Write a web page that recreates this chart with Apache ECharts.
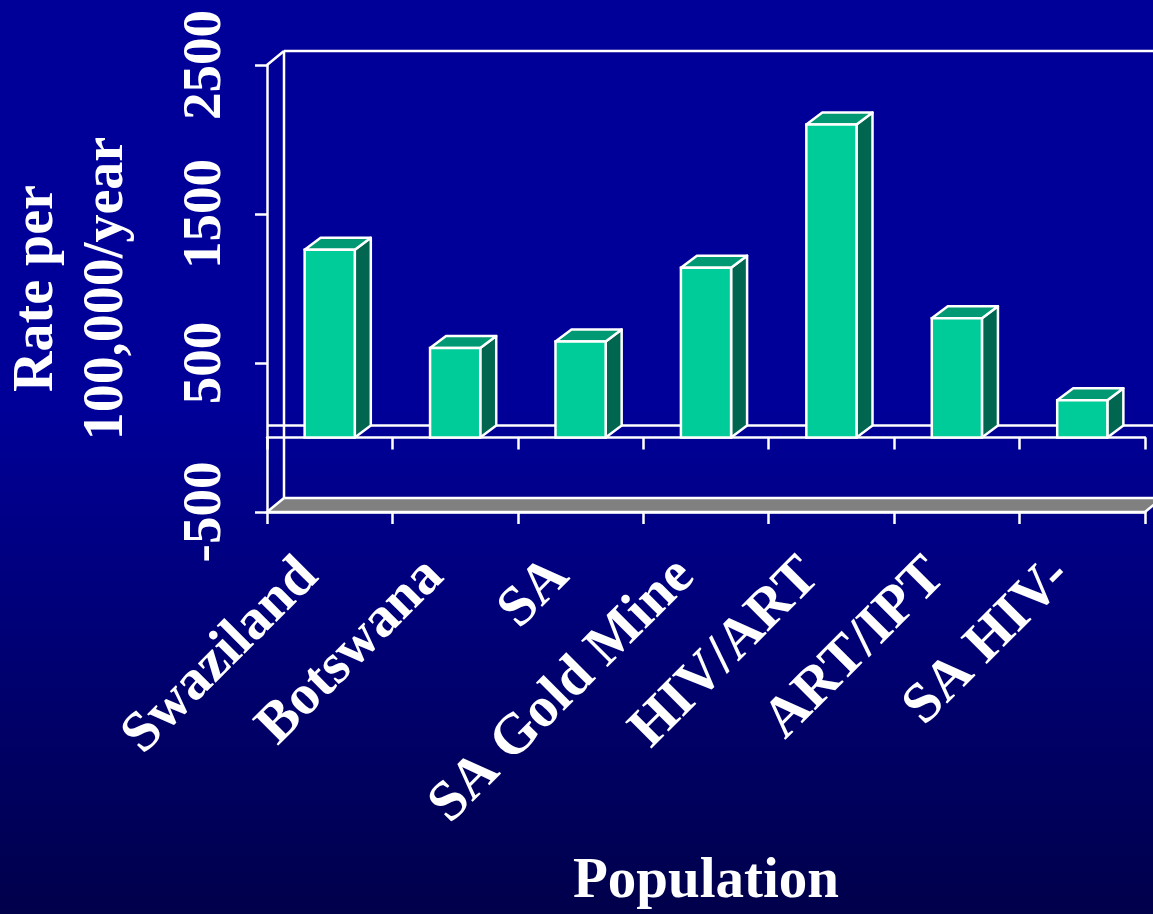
<!DOCTYPE html>
<html>
<head>
<meta charset="utf-8">
<title>Rate per 100,000/year by population</title>
<script src="https://cdn.jsdelivr.net/npm/echarts@6/dist/echarts.min.js"></script>
<style>
  html, body { margin: 0; padding: 0; background: #000099; }
  #chart { width: 1153px; height: 914px; }
</style>
</head>
<body>
<div id="chart"></div>
<script>
// Categories and rates (per 100,000 per year)
const categories = ['Swaziland', 'Botswana', 'SA', 'SA Gold Mine', 'HIV/ART', 'ART/IPT', 'SA HIV-'];
const rates = [1260, 600, 645, 1140, 2100, 800, 250];
const yTicks = [-500, 500, 1500, 2500];

const FONT = 'Liberation Serif';
const WHITE = '#ffffff';

// depth offsets for the pseudo-3D look
const WALL_DX = 17, WALL_DY = -14;
const BAR_DX = 16, BAR_DY = -12;

const chart = echarts.init(document.getElementById('chart'), null, { renderer: 'canvas' });

const lineStyle = { stroke: WHITE, lineWidth: 2.5 };

// back wall, floor and the rear zero line
function renderFrame(params, api) {
  if (params.dataIndex !== 0) return;
  const cs = params.coordSys;
  const x0 = cs.x, x1 = cs.x + cs.width;
  const yT = cs.y, yB = cs.y + cs.height;
  const yZ = api.coord([0, 0])[1];
  const far = x1 + WALL_DX + 40;
  return {
    type: 'group',
    children: [
      { type: 'line', shape: { x1: x0, y1: yT, x2: x0 + WALL_DX, y2: yT + WALL_DY }, style: lineStyle },
      { type: 'line', shape: { x1: x0 + WALL_DX, y1: yT + WALL_DY, x2: far, y2: yT + WALL_DY }, style: lineStyle },
      { type: 'line', shape: { x1: x0 + WALL_DX, y1: yT + WALL_DY, x2: x0 + WALL_DX, y2: yB + WALL_DY }, style: lineStyle },
      { type: 'line', shape: { x1: x0, y1: yZ + WALL_DY + 2, x2: far, y2: yZ + WALL_DY + 2 }, style: lineStyle },
      {
        type: 'polygon',
        shape: { points: [[x0, yB], [x1, yB], [x1 + WALL_DX, yB + WALL_DY], [x0 + WALL_DX, yB + WALL_DY]] },
        style: { fill: '#808080', stroke: WHITE, lineWidth: 2.5 }
      }
    ]
  };
}

// one box per category: side, top and front faces
function renderBar(params, api) {
  const i = api.value(0);
  const v = api.value(1);
  const top = api.coord([i, v]);
  const base = api.coord([i, 0]);
  const bw = api.size([1, 0])[0] * 0.4;
  const x = top[0] - bw / 2;
  const ty = top[1], by = base[1];
  return {
    type: 'group',
    children: [
      {
        type: 'polygon',
        shape: { points: [[x + bw, ty], [x + bw + BAR_DX, ty + BAR_DY], [x + bw + BAR_DX, by + BAR_DY], [x + bw, by]] },
        style: { fill: '#006650', stroke: WHITE, lineWidth: 2.5, lineJoin: 'round' }
      },
      {
        type: 'polygon',
        shape: { points: [[x, ty], [x + BAR_DX, ty + BAR_DY], [x + bw + BAR_DX, ty + BAR_DY], [x + bw, ty]] },
        style: { fill: '#009973', stroke: WHITE, lineWidth: 2.5, lineJoin: 'round' }
      },
      {
        type: 'rect',
        shape: { x: x, y: ty, width: bw, height: by - ty },
        style: { fill: '#00CC99', stroke: WHITE, lineWidth: 2.5 }
      }
    ]
  };
}

const option = {
  animation: false,
  backgroundColor: new echarts.graphic.LinearGradient(0, 0, 0, 1, [
    { offset: 0, color: '#000099' },
    { offset: 0.44, color: '#000099' },
    { offset: 1, color: '#00004b' }
  ]),
  grid: { left: 267, right: 8, top: 65, bottom: 402, containLabel: false, outerBoundsMode: 'none' },
  xAxis: [
    {
      type: 'category',
      data: categories,
      position: 'bottom',
      axisLine: { show: true, onZero: true, lineStyle: { color: WHITE, width: 2.5 } },
      axisTick: { show: true, length: 12, lineStyle: { color: WHITE, width: 2.5 } },
      axisLabel: { show: false },
      splitLine: { show: false }
    },
    {
      type: 'category',
      data: categories,
      position: 'bottom',
      name: 'Population',
      nameLocation: 'middle',
      nameGap: 342,
      nameTextStyle: { color: WHITE, fontFamily: FONT, fontWeight: 'bold', fontSize: 57 },
      axisLine: { show: true, onZero: false, lineStyle: { color: WHITE, width: 2.5 } },
      axisTick: { show: true, length: 12, lineStyle: { color: WHITE, width: 2.5 } },
      axisLabel: {
        show: true, interval: 0, rotate: 45, margin: 76, verticalAlign: 'bottom',
        color: WHITE, fontFamily: FONT, fontWeight: 'bold', fontSize: 57
      },
      splitLine: { show: false }
    }
  ],
  yAxis: {
    type: 'value',
    min: yTicks[0],
    max: yTicks[yTicks.length - 1],
    interval: 1000,
    name: 'Rate per\n100,000/year',
    nameLocation: 'middle',
    nameGap: 124,
    nameTextStyle: { color: WHITE, fontFamily: FONT, fontWeight: 'bold', fontSize: 56, lineHeight: 70 },
    axisLine: { show: true, lineStyle: { color: WHITE, width: 2.5 } },
    axisTick: { show: true, length: 12, lineStyle: { color: WHITE, width: 2.5 } },
    axisLabel: {
      rotate: 90, margin: 34,
      formatter: (v) => String(v),
      color: WHITE, fontFamily: FONT, fontWeight: 'bold', fontSize: 55
    },
    splitLine: { show: false }
  },
  series: [
    {
      type: 'custom',
      name: 'frame',
      z: 1,
      silent: true,
      renderItem: renderFrame,
      data: [[0, 0]],
      xAxisIndex: 0
    },
    {
      type: 'custom',
      name: 'Rate',
      z: 3,
      renderItem: renderBar,
      encode: { x: 0, y: 1 },
      data: rates.map((v, i) => [i, v]),
      xAxisIndex: 0
    }
  ]
};

chart.setOption(option);
</script>
</body>
</html>
